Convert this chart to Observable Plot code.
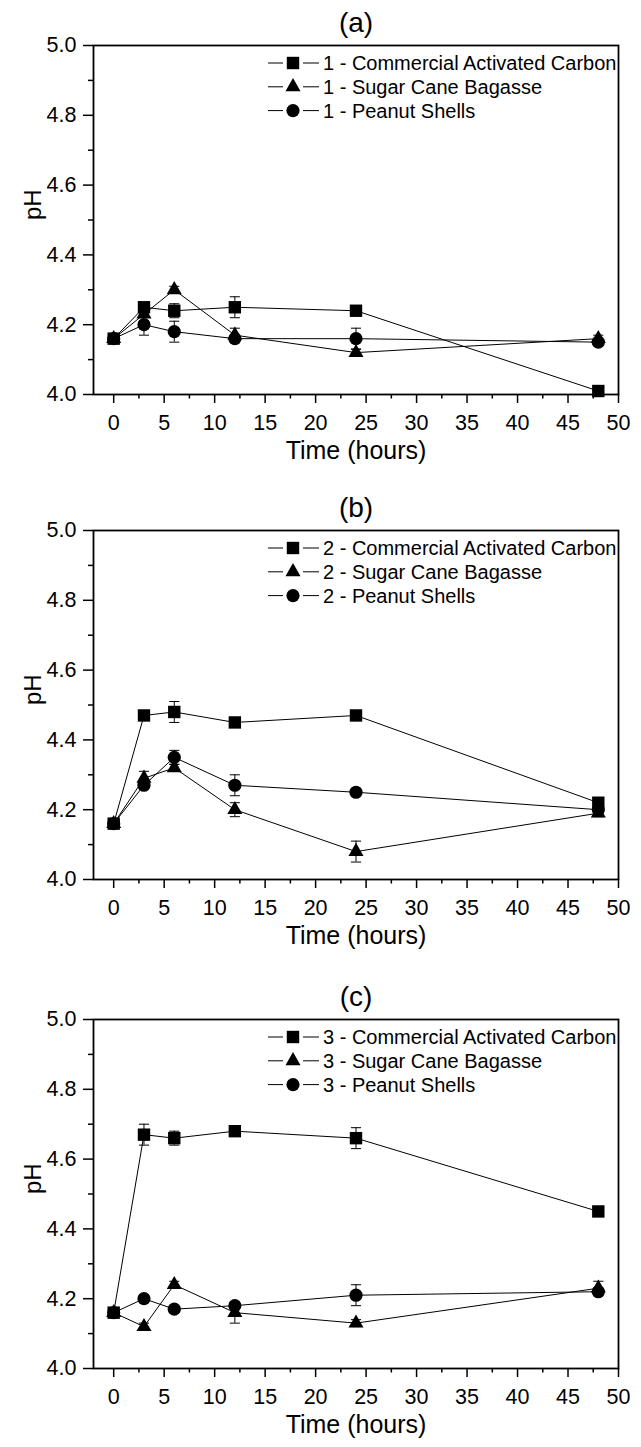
<!DOCTYPE html>
<html><head><meta charset="utf-8">
<script src="https://cdn.jsdelivr.net/npm/d3@7"></script>
<script src="https://cdn.jsdelivr.net/npm/@observablehq/plot@0.6"></script>
<style>
body{margin:0;background:#fff;}
#chart{position:relative;width:641px;height:1447px;background:#fff;}
.panel{position:absolute;left:0;}
</style></head><body><div id="chart"></div>
<script>
// ---- data ----
const times = [0, 3, 6, 12, 24, 48];
const panelTitles = ["(a)", "(b)", "(c)"];
const panelNumbers = ["1", "2", "3"];
const materials = ["Commercial Activated Carbon", "Sugar Cane Bagasse", "Peanut Shells"];
const symbols = ["square", "triangle", "circle"];
const xTicks = [0, 5, 10, 15, 20, 25, 30, 35, 40, 45, 50];
const xMinor = [2.5, 7.5, 12.5, 17.5, 22.5, 27.5, 32.5, 37.5, 42.5, 47.5];
const yTicks = [4.0, 4.2, 4.4, 4.6, 4.8, 5.0];
const yMinor = [4.1, 4.3, 4.5, 4.7, 4.9];

// panel (a)
const a_cac = [4.16, 4.25, 4.24, 4.25, 4.24, 4.01];
const a_cac_err = [0.01, 0.01, 0.02, 0.03, 0.01, 0.005];
const a_scb = [4.16, 4.23, 4.30, 4.17, 4.12, 4.16];
const a_scb_err = [0.01, 0.02, 0.01, 0.02, 0.01, 0.01];
const a_ps = [4.16, 4.20, 4.18, 4.16, 4.16, 4.15];
const a_ps_err = [0.01, 0.03, 0.03, 0.01, 0.03, 0.01];
// panel (b)
const b_cac = [4.16, 4.47, 4.48, 4.45, 4.47, 4.22];
const b_cac_err = [0.01, 0.01, 0.03, 0.01, 0.01, 0.01];
const b_scb = [4.16, 4.29, 4.32, 4.20, 4.08, 4.19];
const b_scb_err = [0.01, 0.02, 0.01, 0.02, 0.03, 0.01];
const b_ps = [4.16, 4.27, 4.35, 4.27, 4.25, 4.20];
const b_ps_err = [0.01, 0.01, 0.02, 0.03, 0.01, 0.01];
// panel (c)
const c_cac = [4.16, 4.67, 4.66, 4.68, 4.66, 4.45];
const c_cac_err = [0.01, 0.03, 0.02, 0.01, 0.03, 0.01];
const c_scb = [4.16, 4.12, 4.24, 4.16, 4.13, 4.23];
const c_scb_err = [0.01, 0.01, 0.01, 0.03, 0.01, 0.02];
const c_ps = [4.16, 4.20, 4.17, 4.18, 4.21, 4.22];
const c_ps_err = [0.01, 0.01, 0.01, 0.01, 0.03, 0.01];

const panelSeries = [
  [[a_cac, a_cac_err], [a_scb, a_scb_err], [a_ps, a_ps_err]],
  [[b_cac, b_cac_err], [b_scb, b_scb_err], [b_ps, b_ps_err]],
  [[c_cac, c_cac_err], [c_scb, c_scb_err], [c_ps, c_ps_err]]
];

// ---- layout ----
const FONT = "'Liberation Sans', Arial, Helvetica, sans-serif";
const panelTops = [0, 485, 974];
const panelHeights = [485, 489, 473];
const dotR = [7, 5.6, 6.6];

function legendMark(num) {
  return (index, scales, values, dims) => {
    const g = d3.create("svg:g").attr("font-family", FONT);
    const right = dims.width - dims.marginRight;
    const x0 = right - 350, xm = right - 325, x1 = right - 299, xt = right - 295;
    materials.forEach((m, k) => {
      const y = dims.marginTop + 18 + k * 23.8;
      g.append("line").attr("x1", x0).attr("x2", xm - 10).attr("y1", y).attr("y2", y).attr("stroke", "black").attr("stroke-width", 1);
      g.append("line").attr("x1", xm + 10).attr("x2", x1).attr("y1", y).attr("y2", y).attr("stroke", "black").attr("stroke-width", 1);
      const sym = d3.symbol(k === 0 ? d3.symbolSquare : k === 1 ? d3.symbolTriangle : d3.symbolCircle, Math.PI * dotR[k] * dotR[k]);
      g.append("path").attr("d", sym()).attr("transform", `translate(${xm},${y})`).attr("fill", "black");
      g.append("text").attr("x", xt).attr("y", y).attr("dy", "0.36em").attr("font-size", 20)
        .attr("text-anchor", "start").attr("fill", "black")
        .text(`${num} - ${m}`);
    });
    return g.node();
  };
}

function makePanel(p) {
  const rows = [];
  panelSeries[p].forEach(([vals, errs], k) => {
    times.forEach((t, j) => rows.push({t, v: vals[j], e: errs[j], k}));
  });
  const H = panelHeights[p];
  const plot = Plot.plot({
    width: 641,
    height: H,
    marginTop: 45,
    marginLeft: 93,
    marginRight: 23,
    marginBottom: H - 45 - 349,
    x: {domain: [-2, 50]},
    y: {domain: [4, 5]},
    style: {fontFamily: FONT, color: "black", background: "white", overflow: "visible"},
    marks: [
      Plot.axisX({ticks: xTicks, tickSize: 9, tickPadding: 11, fontSize: 21.5, label: null, strokeWidth: 1.5, tickFormat: d3.format("d")}),
      Plot.axisX({ticks: xMinor, tickSize: 4.5, tickFormat: () => "", label: null, strokeWidth: 1.5}),
      Plot.axisY({ticks: yTicks, tickSize: 10, tickPadding: 7, fontSize: 21.5, label: null, strokeWidth: 1.5, tickFormat: d3.format(".1f")}),
      Plot.axisY({ticks: yMinor, tickSize: 5, tickFormat: () => "", label: null, strokeWidth: 1.5}),
      Plot.frame({stroke: "black", strokeWidth: 1.8}),
      Plot.line(rows, {x: "t", y: "v", z: "k", stroke: "black", strokeWidth: 1}),
      Plot.ruleX(rows, {x: "t", y1: d => d.v - d.e, y2: d => d.v + d.e, stroke: "black", strokeWidth: 1}),
      Plot.link(rows, {x1: d => d.t - 0.5, x2: d => d.t + 0.5, y1: d => d.v + d.e, y2: d => d.v + d.e, stroke: "black", strokeWidth: 1}),
      Plot.link(rows, {x1: d => d.t - 0.5, x2: d => d.t + 0.5, y1: d => d.v - d.e, y2: d => d.v - d.e, stroke: "black", strokeWidth: 1}),
      ...symbols.map((s, k) => Plot.dot(rows.filter(d => d.k === k), {x: "t", y: "v", symbol: s, r: dotR[k], fill: "black", stroke: "none"})),
      legendMark(panelNumbers[p]),
      Plot.text([panelTitles[p]], {frameAnchor: "top", dy: -22, fontSize: 28, lineAnchor: "middle", fill: "black"}),
      Plot.text(["Time (hours)"], {frameAnchor: "bottom", dy: 56, fontSize: 25, lineAnchor: "middle", fill: "black"}),
      Plot.text(["pH"], {frameAnchor: "left", dx: -60, rotate: -90, fontSize: 24, lineAnchor: "middle", fill: "black"})
    ]
  });
  plot.classList.add("panel");
  plot.style.top = panelTops[p] + "px";
  document.getElementById("chart").appendChild(plot);
}

[0, 1, 2].forEach(makePanel);
</script></body></html>
